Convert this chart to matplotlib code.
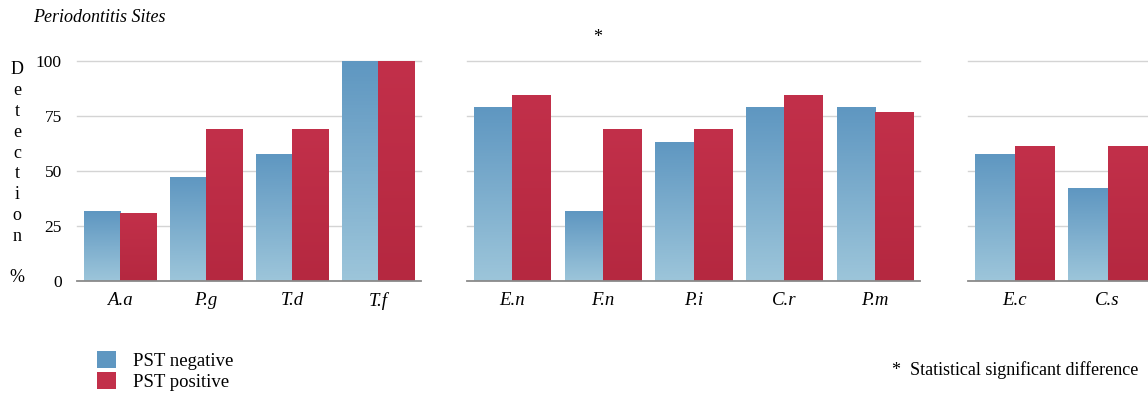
import matplotlib.pyplot as plt
import matplotlib.colors as mcolors
import numpy as np
from matplotlib.patches import Patch

plt.rcParams['font.family'] = ['Liberation Serif', 'DejaVu Serif']

# detection % per bacterium, grouped as in the figure
groups = [
    ['A.a', 'P.g', 'T.d', 'T.f'],
    ['E.n', 'F.n', 'P.i', 'C.r', 'P.m'],
    ['E.c', 'C.s'],
]
pst_negative = [
    [31.6, 47.4, 57.9, 100.0],
    [78.9, 31.6, 63.2, 78.9, 78.9],
    [57.9, 42.1],
]
pst_positive = [
    [30.8, 69.2, 69.2, 100.0],
    [84.6, 69.2, 69.2, 84.6, 76.9],
    [61.5, 61.5],
]
yticks = [0, 25, 50, 75, 100]

blue_top, blue_bot = '#5f97c1', '#9cc5da'
red_top, red_bot = '#c2304a', '#b52840'

W, H = 1148, 394
fig = plt.figure(figsize=(W / 100, H / 100), dpi=100)

# axes boxes in pixels: left, width
boxes = [(77, 344), (467, 453), (968, 186)]
bottom_px, top_px = 281, 61


def grad_bar(ax, rect, c_top, c_bot):
    # vertical gradient clipped to the bar
    x, w, h = rect.get_x(), rect.get_width(), rect.get_height()
    cmap = mcolors.LinearSegmentedColormap.from_list('g', [c_bot, c_top])
    grad = np.linspace(0, 1, 64).reshape(-1, 1)
    im = ax.imshow(grad, cmap=cmap, origin='lower', aspect='auto',
                   extent=(x, x + w, 0, h), zorder=2)
    im.set_clip_path(rect)


bw = 0.42
for i, (cats, neg, pos) in enumerate(zip(groups, pst_negative, pst_positive)):
    left, width = boxes[i]
    ax = fig.add_axes([left / W, (H - bottom_px) / H, width / W,
                       (bottom_px - top_px) / H])
    x = np.arange(len(cats))
    b1 = ax.bar(x - bw / 2, neg, bw, color=blue_top, zorder=2)
    b2 = ax.bar(x + bw / 2, pos, bw, color=red_top, zorder=2)
    for r in b1:
        grad_bar(ax, r, blue_top, blue_bot)
    for r in b2:
        grad_bar(ax, r, red_top, red_bot)
    ax.set_xlim(-0.5, len(cats) - 0.5)
    ax.set_ylim(0, 100)
    for t in yticks[1:]:
        ax.axhline(t, color='#d4d4d4', lw=1, zorder=1, clip_on=False)
    ax.axhline(0, color='#8a8a8a', lw=1.3, zorder=3, clip_on=False)
    for s in ax.spines.values():
        s.set_visible(False)
    ax.set_xticks(x)
    ax.set_xticklabels(cats, fontstyle='italic', fontsize=13.5)
    ax.tick_params(axis='x', length=0, pad=8)
    ax.set_yticks(yticks)
    if i == 0:
        ax.set_yticklabels([str(t) for t in yticks], fontsize=12.5)
        ax.tick_params(axis='y', length=0, pad=11)
    else:
        ax.set_yticklabels([])
        ax.tick_params(axis='y', length=0)

# stacked y label
for k, ch in enumerate('Detection %'):
    fig.text(17 / W, 1 - (70 + k * 20.8) / H, ch, fontsize=13,
             ha='center', va='center')

fig.text(33 / W, 1 - 18 / H, 'Periodontitis Sites', fontstyle='italic',
         fontsize=13, va='center')
fig.text(598 / W, 1 - 37 / H, '*', fontsize=13, ha='center', va='center')

handles = [Patch(facecolor=blue_top, label='PST negative'),
           Patch(facecolor=red_top, label='PST positive')]
fig.legend(handles=handles, loc='upper left',
           bbox_to_anchor=(88 / W, 1 - 342 / H), frameon=False,
           fontsize=13.5, handlelength=1.0, handleheight=1.0,
           handletextpad=0.9, labelspacing=0.1, borderpad=0)

fig.text(892 / W, 1 - 370 / H, '*  Statistical significant difference',
         fontsize=13, va='center')

fig.savefig('out.png', dpi=100)
